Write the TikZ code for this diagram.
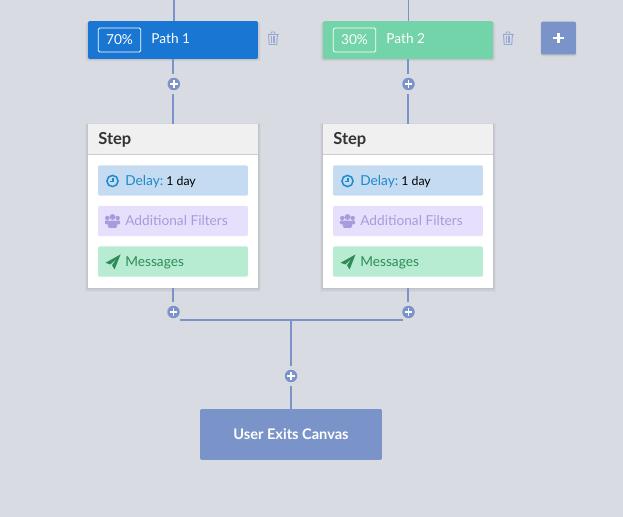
\documentclass[tikz,border=0pt]{standalone}
\usepackage{fontspec}
\setmainfont{Lato}
\usetikzlibrary{arrows.meta, calc, shadows}
\definecolor{canvasbg}{HTML}{D8DBE1}
\definecolor{flow}{HTML}{7A94C9}
\definecolor{pathblue}{HTML}{1976D2}
\definecolor{pathgreen}{HTML}{72D4A8}
\definecolor{trashblue}{HTML}{95A9D4}
\definecolor{delaybg}{HTML}{C5DBF2}
\definecolor{delayfg}{HTML}{1C8BCB}
\definecolor{filterbg}{HTML}{E6E0FD}
\definecolor{filterfg}{HTML}{AA9BDC}
\definecolor{msgbg}{HTML}{B8ECD2}
\definecolor{msgfg}{HTML}{2E8B57}
\definecolor{headbg}{HTML}{F0F0F0}

\begin{document}
\begin{tikzpicture}[x=0.02cm, y=-0.02cm, font=\fontsize{7.8pt}{9pt}\selectfont,
  softshadow/.style={
    drop shadow={shadow xshift=0pt, shadow yshift=-1pt, shadow scale=1.03, opacity=0.025, fill=black},
    drop shadow={shadow xshift=0pt, shadow yshift=-0.7pt, shadow scale=1.018, opacity=0.035, fill=black},
    drop shadow={shadow xshift=0pt, shadow yshift=-0.4pt, shadow scale=1.008, opacity=0.05, fill=black}},
  wire/.style={draw=flow, line width=1.1pt},
  pathbox/.style={rectangle, rounded corners=0.4mm, minimum width=34mm, minimum height=7.6mm, inner sep=0pt, softshadow},
  badge/.style={draw=white, rounded corners=0.3mm, line width=0.5pt, minimum width=8.5mm, minimum height=4.8mm, inner sep=0pt, text=white},
  whitetxt/.style={anchor=base west, inner sep=0pt, text=white},
  card/.style={rectangle, fill=white, minimum width=34mm, minimum height=32.8mm, inner sep=0pt, softshadow},
  cardhead/.style={rectangle, fill=headbg, minimum width=34mm, minimum height=6mm, inner sep=0pt},
  rowbox/.style={rectangle, rounded corners=0.4mm, minimum width=30mm, minimum height=6.1mm, inner sep=0pt},
  rowtxt/.style={anchor=base west, inner sep=0pt},
  steptitle/.style={anchor=base west, inner sep=0pt, font=\fontsize{9.4pt}{11pt}\selectfont\bfseries, text=black!80},
  addbtn/.style={circle, fill=flow, minimum size=2.5mm, inner sep=0pt, outer sep=0.8mm,
    path picture={\draw[white, line width=0.85pt]
      ([xshift=-0.75mm]path picture bounding box.center) -- ([xshift=0.75mm]path picture bounding box.center)
      ([yshift=-0.75mm]path picture bounding box.center) -- ([yshift=0.75mm]path picture bounding box.center);}},
  trash/.pic={
    \draw[trashblue, line width=0.55pt, rounded corners=0.2pt] (-4.4,-3.5) -- (-3.8,6) -- (3.8,6) -- (4.4,-3.5);
    \draw[trashblue, line width=0.8pt] (-5.5,-4) -- (5.5,-4);
    \draw[trashblue, line width=0.5pt] (-2.2,-4) -- (-1.6,-6.5) -- (1.6,-6.5) -- (2.2,-4);
    \draw[trashblue, line width=0.45pt] (-1.7,-2) -- (-1.7,4.4) (0,-2) -- (0,4.4) (1.7,-2) -- (1.7,4.4);},
  clockicon/.pic={
    \draw[delayfg, line width=0.85pt] (0,0) circle (5.6);
    \draw[delayfg, line width=0.7pt] (0.4,-3.2) -- (0.4,0.6) -- (-2.6,0.6);},
  usersicon/.pic={
    \fill[filterfg] (-5.2,-3) circle (2.2) (5.2,-3) circle (2.2) (0,-4) circle (2.9);
    \fill[filterfg, rounded corners=0.6pt] (-7.6,3.4) -- (-7.6,-0.6) -- (-3.6,-0.6) -- (-3.6,3.4) -- cycle;
    \fill[filterfg, rounded corners=0.6pt] (7.6,3.4) -- (7.6,-0.6) -- (3.6,-0.6) -- (3.6,3.4) -- cycle;
    \fill[filterfg, rounded corners=0.8pt] (-4.6,7) -- (-4.6,-0.4) -- (4.6,-0.4) -- (4.6,7) -- cycle;},
  planeicon/.pic={
    \fill[msgfg] (7.5,-7.5) -- (-7.5,0.8) -- (-2.6,2.4) -- (3.6,-3.2) -- (-1,3.2) -- (1.6,7.5) -- cycle;}]

\path[use as bounding box, fill=canvasbg] (0,0) rectangle (623,517);

% =================================================================================
% the two paths and the button beside them
% =================================================================================
\coordinate (in1) at (174,0);
\coordinate (in2) at (408.5,0);

\node[pathbox, fill=pathblue]  (path1) at (173,40) {};
\node[pathbox, fill=pathgreen] (path2) at (408,40) {};
\node[badge] (pct1) at (119.5,40) {70\%};
\node[badge] (pct2) at (354.5,40) {30\%};
\node[whitetxt] (name1) at (151,44) {Path 1};
\node[whitetxt] (name2) at (386,44) {Path 2};

\pic at (273,38.5) {trash};
\pic at (508,38.5) {trash};

\node[rectangle, fill=flow, rounded corners=0.4mm, minimum width=7mm, minimum height=6.6mm, inner sep=0pt, softshadow,
  path picture={\draw[white, line width=1.7pt]
    ([xshift=-1.05mm]path picture bounding box.center) -- ([xshift=1.05mm]path picture bounding box.center)
    ([yshift=-1.05mm]path picture bounding box.center) -- ([yshift=1.05mm]path picture bounding box.center);}]
  (newpath) at (558.5,38) {};

\node[addbtn] (add1) at (173.8,84) {};
\node[addbtn] (add2) at (408.5,84) {};

% =================================================================================
% the step cards
% =================================================================================
\node[card] (card1) at (173,206) {};
\node[card] (card2) at (408,206) {};
\node[cardhead, anchor=north] (head1) at (card1.north) {};
\node[cardhead, anchor=north] (head2) at (card2.north) {};
\draw[black!20, line width=0.5pt] (head1.south west) -- (head1.south east);
\draw[black!20, line width=0.5pt] (head2.south west) -- (head2.south east);
\node[steptitle] (title1) at (98,145) {Step};
\node[steptitle] (title2) at (333,145) {Step};

% rows, left card then right card
\node[rowbox, fill=delaybg]  (delay1)  at (173,180.5) {};
\node[rowbox, fill=filterbg] (filter1) at (173,221) {};
\node[rowbox, fill=msgbg]    (msg1)    at (173,261.5) {};
\node[rowbox, fill=delaybg]  (delay2)  at (408,180.5) {};
\node[rowbox, fill=filterbg] (filter2) at (408,221) {};
\node[rowbox, fill=msgbg]    (msg2)    at (408,261.5) {};

\node[rowtxt, text=delayfg]  (delaytxt1)  at (125,186) {Delay:};
\node[rowtxt, font=\fontsize{7pt}{9pt}\selectfont] (daytxt1) at (166,186) {1 day};
\node[rowtxt, text=filterfg] (filtertxt1) at (125,226) {Additional Filters};
\node[rowtxt, text=msgfg]    (msgtxt1)    at (125,266.5) {Messages};
\node[rowtxt, text=delayfg]  (delaytxt2)  at (360,186) {Delay:};
\node[rowtxt, font=\fontsize{7pt}{9pt}\selectfont] (daytxt2) at (401,186) {1 day};
\node[rowtxt, text=filterfg] (filtertxt2) at (360,226) {Additional Filters};
\node[rowtxt, text=msgfg]    (msgtxt2)    at (360,266.5) {Messages};

\pic at (112.5,181) {clockicon};
\pic at (112.5,221) {usersicon};
\pic at (113,262) {planeicon};
\pic at (347.5,181) {clockicon};
\pic at (347.5,221) {usersicon};
\pic at (348,262) {planeicon};

% =================================================================================
% the merge and the exit
% =================================================================================
\node[addbtn] (add3) at (173.5,312) {};
\node[addbtn] (add4) at (408.5,312) {};
\node[addbtn] (add5) at (291,376) {};
\coordinate (mergeL) at (180,320);
\coordinate (mergeR) at (403,320);
\coordinate (mergeM) at (291,320);
\node[rectangle, fill=flow, rounded corners=0.4mm, minimum width=36.4mm, minimum height=10.2mm, inner sep=0pt,
  text=white, font=\fontsize{8.3pt}{10pt}\selectfont\bfseries] (exit) at (291,434.5) {User Exits Canvas};

% connectors
\draw[wire] (in1) -- (in1 |- path1.north);
\draw[wire] (in2) -- (in2 |- path2.north);
\draw[wire] (path1.south) -- (path1.south |- add1.north);
\draw[wire] (path2.south) -- (path2.south |- add2.north);
\draw[wire] (card1.north |- add1.south) -- (card1.north);
\draw[wire] (card2.north |- add2.south) -- (card2.north);
\draw[wire] (card1.south) -- (card1.south |- add3.north);
\draw[wire] (card2.south) -- (card2.south |- add4.north);
\draw[wire] (mergeL) -- (mergeR);
\draw[wire] (mergeM) -- (add5.north);
\draw[wire] (add5.south) -- (exit.north);

\end{tikzpicture}
\end{document}
